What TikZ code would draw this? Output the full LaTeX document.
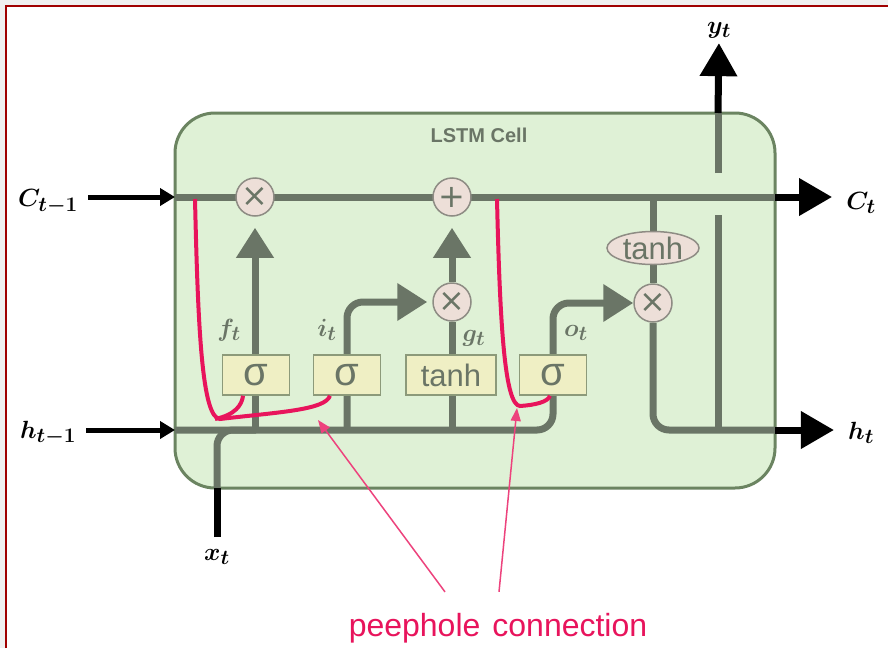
\documentclass[tikz,border=0pt]{standalone}
\usepackage{amsmath}
\usepackage{fontspec}
\newfontfamily\cellfont{Liberation Sans}
\newfontfamily\symfont{DejaVu Sans}
\usetikzlibrary{arrows.meta,positioning,calc,shapes.geometric,backgrounds}
\definecolor{lineg}{HTML}{6A7566}
\definecolor{cellfill}{HTML}{DFF1D6}
\definecolor{celledge}{HTML}{6B8461}
\definecolor{gatefill}{HTML}{EFEFC4}
\definecolor{gateedge}{HTML}{8C9A7A}
\definecolor{opfill}{HTML}{EDDFD8}
\definecolor{opedge}{HTML}{8E8C84}
\definecolor{peep}{HTML}{E8145C}
\definecolor{framered}{HTML}{A00000}
\begin{document}
\begin{tikzpicture}[x=1pt, y=-1pt,
  cellbox/.style={draw=celledge, line width=3, fill=cellfill, rounded corners=40, minimum width=600, minimum height=375},
  gatebox/.style={draw=gateedge, line width=1.5, fill=gatefill, minimum height=40, inner sep=0, text=lineg, font=\cellfont\fontsize{31}{33}\selectfont},
  sigbox/.style={gatebox, minimum width=67, font=\cellfont\fontsize{40}{40}\selectfont},
  op/.style={circle, draw=opedge, line width=1.5, fill=opfill, minimum size=38, inner sep=0, text=lineg, font=\symfont\fontsize{32}{32}\selectfont},
  act/.style={ellipse, draw=opedge, line width=1.5, fill=opfill, minimum width=92, minimum height=33, inner sep=0, text=lineg, font=\cellfont\fontsize{31}{33}\selectfont},
  wire/.style={draw=lineg, line width=7},
  wirearr/.style={wire, -{Triangle[length=30pt, width=36pt]}},
  inarr/.style={line width=5, -{Triangle[length=15pt, width=17pt]}},
  outarr/.style={line width=7, -{Triangle[length=33pt, width=36pt]}},
  peepline/.style={draw=peep, line width=4},
  peeparr/.style={draw=peep!80, line width=1.5, -{Triangle[length=13pt, width=10pt]}},
  lab/.style={inner sep=0, font=\fontsize{29}{34}\selectfont},
  glab/.style={inner sep=0, text=lineg, font=\fontsize{30}{34}\selectfont},
  note/.style={inner sep=0, text=peep, font=\cellfont\fontsize{32}{36}\selectfont}]
\useasboundingbox (0,0) rectangle (888,648);
\node[sigbox] (sf) at (256,375) {σ};
\node[sigbox] (si) at (347,375) {σ};
\node[gatebox, minimum width=90] (tg) at (451,375) {tanh};
\node[sigbox] (so) at (553,375) {σ};
\node[op] (mf) at (255,197) {×};
\node[op] (add) at (452,197) {+};
\node[op] (mi) at (452,302) {×};
\node[op] (mo) at (653,303) {×};
\node[act] (th) at (653,248) {tanh};
\begin{scope}[on background layer]
\fill[gray!12] (0,0) rectangle (888,648);
\fill[white] (6,6) rectangle (888,648);
\draw[framered, line width=2] (6,648) -- (6,6) -- (888,6);
\node[cellbox] (cell) at (475,300.5) {};
\coordinate (cin) at (175,197);
\coordinate (cout) at (775,197);
\coordinate (hin) at (175,430);
\coordinate (hout) at (775,430);
\coordinate (xin) at (217,488);
\coordinate (ytop) at (718,113);
\draw[wire] (cin) -- (cout);
\draw[wire] (mo.north |- cin) -- (mo.north);
\draw[wire, rounded corners=16] (mo.south) |- (hout);
\draw[wire] (ytop |- hout) -- (718,215);
\draw[wire] (718,173) -- (ytop);
\draw[wire, rounded corners=16] (xin) |- (sf.center |- hin);
\draw[wirearr, rounded corners=16] (hin) -| (so.center |- mo.west) -- (mo.west);
\draw[wirearr, shorten >=11] (mf.south |- hin) -- (mf.south);
\draw[wirearr, rounded corners=16, shorten >=5] (si.center |- hin) |- (mi.west);
\draw[wire] (mi.south |- hin) -- (mi.south);
\draw[wirearr, shorten >=11] (mi.north) -- (add.south);
\end{scope}
\node[text=lineg, font=\cellfont\bfseries\fontsize{20}{22}\selectfont] (title) at (479,135) {LSTM Cell};
\node[glab] (ft) at (229,330) {$\boldsymbol{f_t}$};
\node[glab] (it) at (327,330) {$\boldsymbol{i_t}$};
\node[glab] (gt) at (474,338) {$\boldsymbol{g_t}$};
\node[glab] (ot) at (576,333) {$\boldsymbol{o_t}$};
\node[lab] (Cprev) at (48,202) {$\boldsymbol{C_{t-1}}$};
\node[lab] (hprev) at (48,433) {$\boldsymbol{h_{t-1}}$};
\node[lab] (xt) at (217,557) {$\boldsymbol{x_t}$};
\node[lab] (yt) at (719,30) {$\boldsymbol{y_t}$};
\node[lab] (Ct) at (861,203) {$\boldsymbol{C_t}$};
\node[lab] (ht) at (861,433) {$\boldsymbol{h_t}$};
\draw[inarr, shorten <=10] (Cprev.east |- cin) -- (cin);
\draw[inarr, shorten <=10] (hprev.east |- hin) -- (hin);
\draw[outarr, shorten >=14] (cout) -- (Ct.west |- cout);
\draw[outarr, shorten >=14] (hout) -- (ht.west |- hout);
\draw[outarr, shorten >=5] (ytop) -- (yt.south);
\draw[line width=7, shorten <=12] (xt.north) -- (xin);
\draw[peepline] (195,199) .. controls (198,330) and (202,418) .. (220,419) .. controls (280,412) and (325,410) .. ([xshift=-17]si.south);
\draw[peepline] (215,419) .. controls (235,415) and (242,405) .. ([xshift=-13]sf.south);
\draw[peepline] (497,199) .. controls (500,330) and (505,405) .. (520,406) .. controls (535,405) and (548,402) .. ([xshift=-3]so.south);
\node[note] (note) at (498,628) {peephole\hspace{12pt}connection};
\coordinate (pa) at (318,420);
\coordinate (pb) at (517,408);
\draw[peeparr] ($(note.north)+(-53,-21)$) -- (pa);
\draw[peeparr] ($(note.north)+(1,-21)$) -- (pb);
\end{tikzpicture}
\end{document}
